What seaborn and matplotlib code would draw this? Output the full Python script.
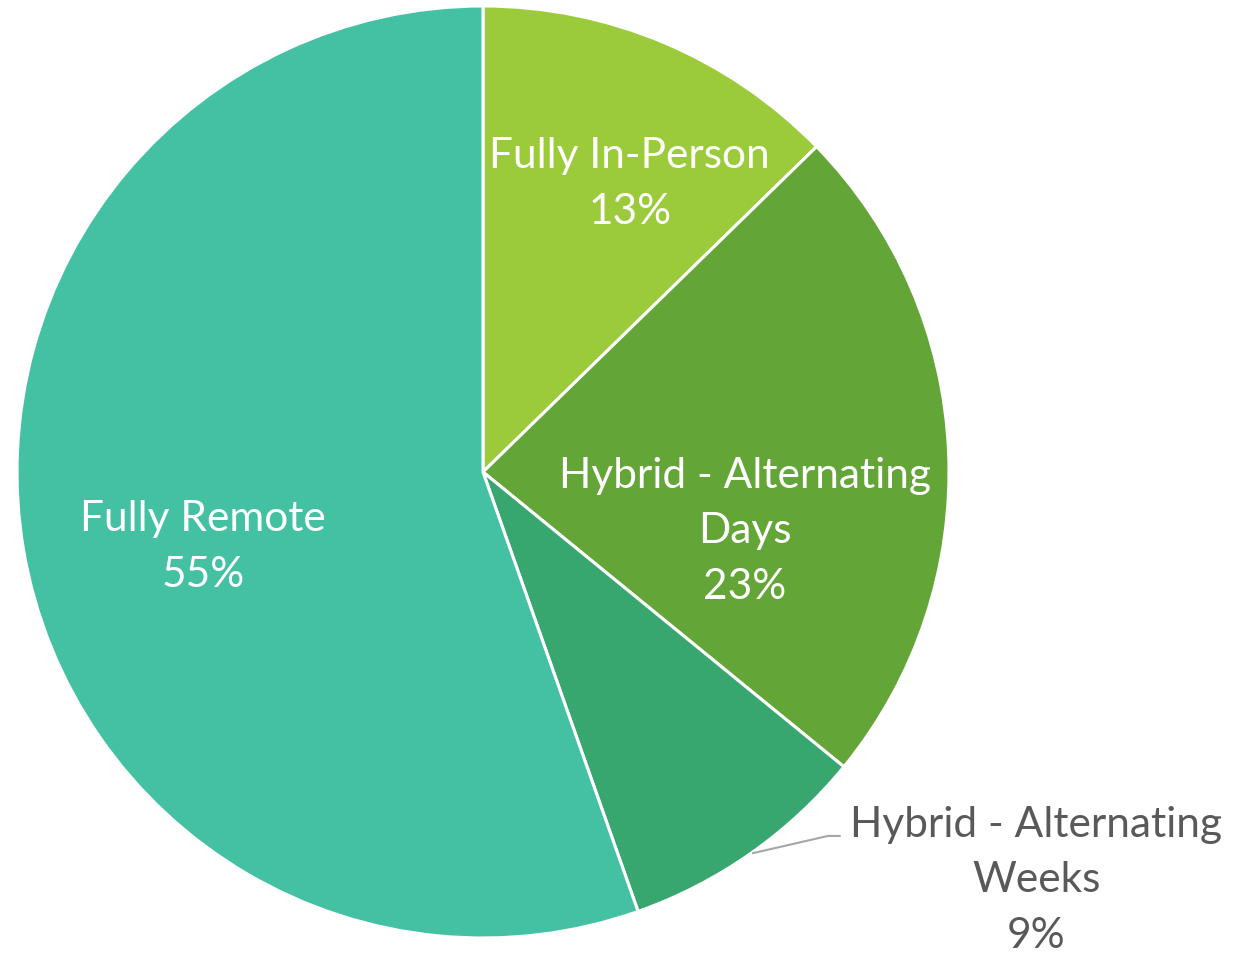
import matplotlib
matplotlib.use("Agg")
import matplotlib.pyplot as plt
import seaborn as sns
import numpy as np

categories = ["Fully In-Person", "Hybrid - Alternating\nDays", "Hybrid - Alternating\nWeeks", "Fully Remote"]
values = [12.7, 23.2, 8.7, 55.4]
colors = ["#9BCB3B", "#63A537", "#37A76F", "#44C1A3"]
text_colors = ["white", "white", "#595959", "white"]
# label centre positions (pie radius = 1)
label_pos = [(0.315, 0.618), (0.562, -0.127), (1.187, -0.876), (-0.601, -0.161)]

sns.set_theme(style="white")
plt.rcParams['font.family'] = ['Lato', 'DejaVu Sans']

W, H = 1238, 959
fig = plt.figure(figsize=(W / 100, H / 100), dpi=100)
cx, cy, R = 483, 472, 466
ax = fig.add_axes([(cx - R) / W, (H - cy - R) / H, 2 * R / W, 2 * R / H])

wedges, _ = ax.pie(values, colors=colors, startangle=90, counterclock=False,
                   radius=1.0, wedgeprops=dict(edgecolor="white", linewidth=2.2))
ax.set_xlim(-1, 1)
ax.set_ylim(-1, 1)
ax.set_aspect("equal")
ax.axis("off")

for cat, v, (x, y), c in zip(categories, values, label_pos, text_colors):
    ax.text(x, y, f"{cat}\n{round(v)}%", ha="center", va="center", color=c,
            fontsize=30.5, linespacing=1.57, clip_on=False)

# leader line for small slice
ax.plot([0.579, 0.740, 0.766], [-0.818, -0.781, -0.781], color="#A6A6A6",
        lw=1.5, clip_on=False)

fig.savefig("out.png", dpi=100)
